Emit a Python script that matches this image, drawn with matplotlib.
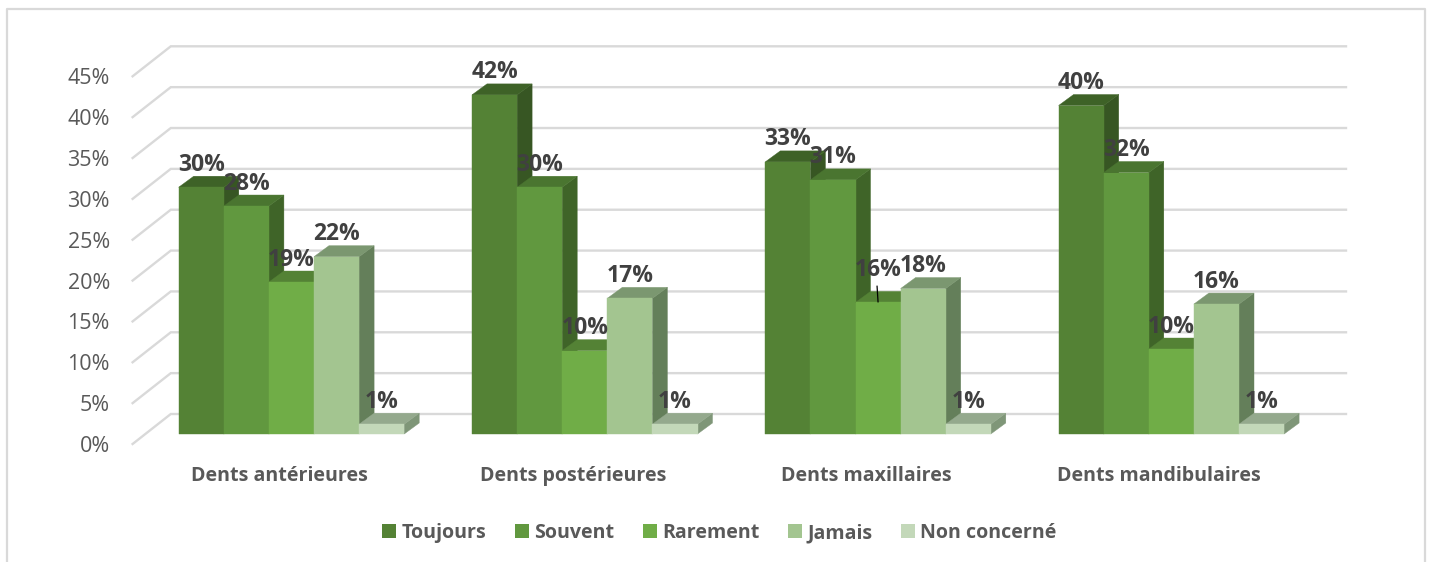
import matplotlib
matplotlib.use("Agg")
import matplotlib.pyplot as plt
from matplotlib.patches import Polygon, Patch
from matplotlib.lines import Line2D
from matplotlib.transforms import ScaledTranslation

plt.rcParams['font.family'] = ['Open Sans', 'DejaVu Sans']

categories = ["Dents antérieures", "Dents postérieures", "Dents maxillaires", "Dents mandibulaires"]
series_names = ["Toujours", "Souvent", "Rarement", "Jamais", "Non concerné"]
toujours = [30.2, 41.5, 33.3, 40.2]
souvent = [27.9, 30.2, 31.1, 32.0]
rarement = [18.6, 10.2, 16.1, 10.4]
jamais = [21.7, 16.6, 17.8, 15.9]
non_concerne = [1.2, 1.2, 1.2, 1.2]
y_ticks = [0, 5, 10, 15, 20, 25, 30, 35, 40, 45]

front_colors = ["#548235", "#61983f", "#70ad47", "#a3c590", "#c3d8b9"]
top_colors = ["#3e6227", "#4a7530", "#548235", "#7b9770", "#94a98d"]
side_colors = ["#375623", "#3f6428", "#4a7530", "#647f5a", "#7f9678"]
GRID = "#d9d9d9"
TXT = "#595959"
LBL = "#404040"

W, H = 1429, 562
fig = plt.figure(figsize=(W / 100, H / 100), dpi=100, facecolor="white")

px_left, px_right, px_base, px_top = 145.3, 1318.5, 434.0, 66.3
ax = fig.add_axes([px_left / W, 1 - px_base / H, (px_right - px_left) / W, (px_base - px_top) / H])
ax.set_xlim(0, 4)
ax.set_ylim(0, 45)
ax.patch.set_alpha(0)
for s in ax.spines.values():
    s.set_visible(False)

ux = (px_right - px_left) / 4
uy = (px_base - px_top) / 45

for v in y_ticks:
    ax.plot([-12.7 / ux, 25.5 / ux, 4 + 27.5 / ux],
            [v - 10 / uy, v + 20 / uy, v + 20 / uy],
            color=GRID, lw=1.7, clip_on=False, zorder=1, solid_joinstyle="miter")

bar_w = 45.1 / ux
start = 33.4 / ux
dx = 15 / ux
dy = 11 / uy
series = [toujours, souvent, rarement, jamais, non_concerne]

z = 2
label_lift = {(2, 2): 32}
for g in range(len(categories)):
    for i, vals in enumerate(series):
        v = vals[g]
        x0 = g + start + i * bar_w
        x1 = x0 + bar_w
        kw = dict(clip_on=False, zorder=z, lw=0.3)
        ax.add_patch(Polygon([(x1, 0), (x1 + dx, dy), (x1 + dx, v + dy), (x1, v)],
                             fc=side_colors[i], ec=side_colors[i], **kw))
        ax.add_patch(Polygon([(x0, v), (x0 + dx, v + dy), (x1 + dx, v + dy), (x1, v)],
                             fc=top_colors[i], ec=top_colors[i], **kw))
        ax.add_patch(Polygon([(x0, 0), (x1, 0), (x1, v), (x0, v)],
                             fc=front_colors[i], ec=front_colors[i], **kw))
        z += 1

for g in range(len(categories)):
    for i, vals in enumerate(series):
        v = vals[g]
        xc = g + start + (i + 0.5) * bar_w
        lift = label_lift.get((g, i), 22.5)
        ax.annotate(f"{v:.0f}%", xy=(xc, v), xytext=(0, lift), textcoords="offset pixels",
                    ha="center", va="center", fontsize=16.5, fontweight="bold", color=LBL,
                    zorder=100, annotation_clip=False)
        if lift == 32:
            ax.annotate("", xy=(xc, v + 0.05), xytext=(-1, 16), textcoords="offset pixels",
                        arrowprops=dict(arrowstyle="-", color="black", lw=0.9, shrinkA=0, shrinkB=0),
                        zorder=100, annotation_clip=False)

ax.set_yticks(y_ticks)
ax.set_yticklabels([f"{v}%" for v in y_ticks], fontsize=15.5, color=TXT)
ax.tick_params(axis="y", length=0, pad=25.5)
ax.set_xticks([g + 0.5 for g in range(len(categories))])
ax.set_xticklabels(categories, fontsize=14.1, fontweight="bold", color=TXT)
ax.tick_params(axis="x", length=0, pad=23)
off_y = ScaledTranslation(0, -10 / 100, fig.dpi_scale_trans)
off_x = ScaledTranslation(-12.5 / 100, 0, fig.dpi_scale_trans)
for t in ax.get_yticklabels():
    t.set_transform(t.get_transform() + off_y)
for t in ax.get_xticklabels():
    t.set_transform(t.get_transform() + off_x)

handles = [Patch(fc=c, ec="none") for c in front_colors]
fig.legend(handles, series_names, loc="center", bbox_to_anchor=(719.5 / W, 1 - 533 / H), ncol=5,
           frameon=False, prop=dict(size=14.1, weight="bold"), labelcolor=TXT,
           handlelength=0.72, handleheight=0.72, handletextpad=0.27, columnspacing=1.45,
           borderpad=0, borderaxespad=0)

fig.add_artist(Line2D([6.5 / W, 6.5 / W, 1424.5 / W, 1424.5 / W],
                      [0, 1 - 9 / H, 1 - 9 / H, 0], color=GRID, lw=1.6, transform=fig.transFigure))

fig.savefig("out.png", dpi=100, facecolor="white")
